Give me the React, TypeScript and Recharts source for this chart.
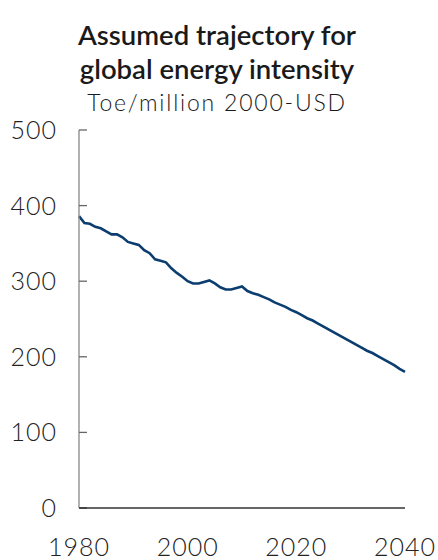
import * as React from "react";
import { Line, LineChart, XAxis, YAxis } from "recharts";

const years = [
  1980, 1981, 1982, 1983, 1984, 1985, 1986, 1987, 1988, 1989,
  1990, 1991, 1992, 1993, 1994, 1995, 1996, 1997, 1998, 1999,
  2000, 2001, 2002, 2003, 2004, 2005, 2006, 2007, 2008, 2009,
  2010, 2011, 2012, 2013, 2014, 2015, 2016, 2017, 2018, 2019,
  2020, 2021, 2022, 2023, 2024, 2025, 2026, 2027, 2028, 2029,
  2030, 2031, 2032, 2033, 2034, 2035, 2036, 2037, 2038, 2039,
  2040
];

const intensity = [
  386, 377, 376, 372, 370, 366, 362, 362, 358, 352,
  350, 348, 341, 337, 329, 327, 325, 317, 311, 306,
  300, 297, 297, 299, 301, 297, 292, 289, 289, 291,
  293, 287, 284, 282, 279, 276, 272, 269, 266, 262,
  259, 255, 251, 248, 244, 240, 236, 232, 228, 224,
  220, 216, 212, 208, 205, 201, 197, 193, 189, 184,
  180
];

const xTicks = [1980, 2000, 2020, 2040];
const yTicks = [0, 100, 200, 300, 400, 500];

const titleLines = ["Assumed trajectory for", "global energy intensity"];
const subtitle = "Toe/million 2000-USD";

const data = years.map((year, i) => ({ year, value: intensity[i] }));

const FONT = "Lato, 'Open Sans', sans-serif";
const LINE_COLOR = "#0b3d6f";
const TEXT = "#222";

function YTick(props: any) {
  const { x, y, payload } = props;
  return (
    <g>
      <line x1={x} x2={x + 8} y1={y} y2={y} stroke={payload.value === 0 ? "#333" : "#666"} strokeWidth={1.3} />
      <text
        x={x - 22}
        y={y + 9}
        textAnchor="end"
        fontSize={25}
        fontWeight={300}
        letterSpacing={1}
        fill={TEXT}
        fontFamily={FONT}
      >
        {payload.value}
      </text>
    </g>
  );
}

function XTick(props: any) {
  const { x, y, payload } = props;
  return (
    <text
      x={x}
      y={y + 48}
      textAnchor="middle"
      fontSize={25}
      fontWeight={300}
      letterSpacing={1}
      fill={TEXT}
      fontFamily={FONT}
    >
      {payload.value}
    </text>
  );
}

export default function App() {
  return (
    <div style={{ position: "relative", width: 438, height: 560, background: "#fff", fontFamily: FONT }}>
      <style>{"html, body { margin: 0; padding: 0; overflow: hidden; }"}</style>
      <svg width={438} height={125} style={{ position: "absolute", top: 0, left: 0 }}>
        <text x={217} y={45} textAnchor="middle" fontSize={27.5} fontWeight={600} fill="#1a1a1a" fontFamily={FONT}>
          {titleLines[0]}
        </text>
        <text x={217} y={79} textAnchor="middle" fontSize={27.5} fontWeight={600} fill="#1a1a1a" fontFamily={FONT}>
          {titleLines[1]}
        </text>
        <text
          x={217}
          y={111}
          textAnchor="middle"
          fontSize={23}
          fontWeight={300}
          letterSpacing={1.8}
          fill="#1a1a1a"
          fontFamily={FONT}
        >
          {subtitle}
        </text>
      </svg>
      <div style={{ position: "absolute", top: 0, left: 0 }}>
        <LineChart width={438} height={560} data={data} margin={{ top: 130, right: 33, bottom: 0, left: 0 }}>
          <XAxis
            dataKey="year"
            type="number"
            domain={[1980, 2040]}
            ticks={xTicks}
            height={52}
            tickSize={0}
            tickMargin={0}
            tickLine={false}
            axisLine={{ stroke: "#333", strokeWidth: 1.3 }}
            tick={<XTick />}
            interval={0}
          />
          <YAxis
            type="number"
            domain={[0, 500]}
            ticks={yTicks}
            width={79}
            tickSize={0}
            tickMargin={0}
            tickLine={false}
            axisLine={{ stroke: "#888", strokeWidth: 1.3 }}
            tick={<YTick />}
            interval={0}
          />
          <Line
            type="linear"
            dataKey="value"
            stroke={LINE_COLOR}
            strokeWidth={2.6}
            dot={false}
            isAnimationActive={false}
          />
        </LineChart>
      </div>
    </div>
  );
}
